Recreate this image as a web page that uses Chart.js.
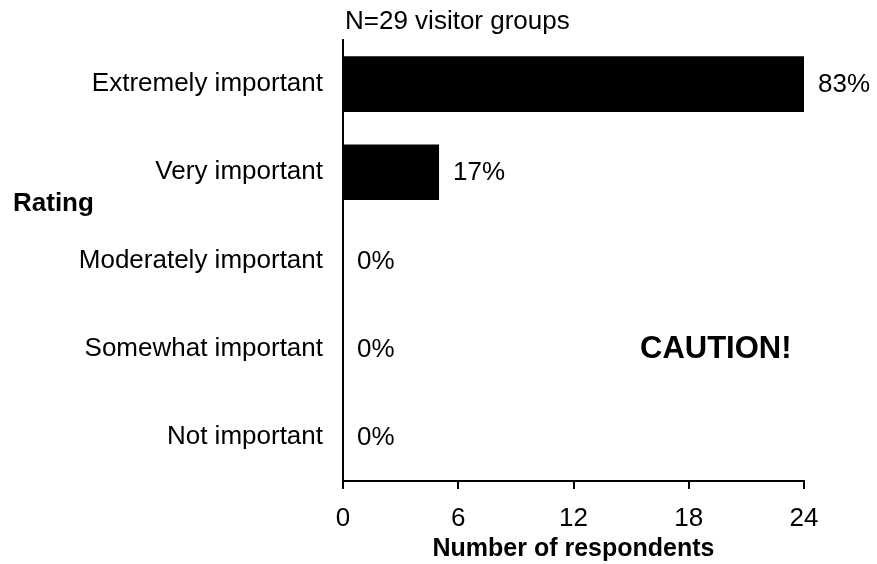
<!DOCTYPE html>
<html>
<head>
<meta charset="utf-8">
<script src="https://cdn.jsdelivr.net/npm/chart.js@4.4.0/dist/chart.umd.min.js"></script>
<style>
  html, body { margin: 0; padding: 0; background: #fff; }
  #wrap { width: 877px; height: 564px; }
</style>
</head>
<body>
<div id="wrap"><canvas id="ratingChart" width="877" height="564"></canvas></div>
<script>
// data
const ratings = ['Extremely important', 'Very important', 'Moderately important', 'Somewhat important', 'Not important'];
const respondents = [24, 5, 0, 0, 0];
const percentLabels = ['83%', '17%', '0%', '0%', '0%'];
const xTicks = [0, 6, 12, 18, 24];
const sampleNote = 'N=29 visitor groups';

const face = '"Liberation Sans", Arial, Helvetica, sans-serif';

// percent labels, header and side texts
const extraText = {
    id: 'extraText',
    afterDatasetsDraw(chart) {
        const ctx = chart.ctx;
        const meta = chart.getDatasetMeta(0);
        ctx.save();
        ctx.fillStyle = '#000';
        ctx.textBaseline = 'middle';
        ctx.textAlign = 'left';
        ctx.font = '26px ' + face;
        meta.data.forEach((bar, i) => {
            ctx.fillText(percentLabels[i], bar.x + 14, bar.y + 1);
        });
        ctx.fillText(sampleNote, chart.chartArea.left + 2, 22);

        ctx.font = 'bold 26px ' + face;
        ctx.fillText('Rating', 13, 204);

        ctx.font = 'bold 31px ' + face;
        ctx.fillText('CAUTION!', 640, 349);
        ctx.restore();
    }
};

Chart.defaults.color = '#000';

new Chart(document.getElementById('ratingChart'), {
    type: 'bar',
    data: {
        labels: ratings,
        datasets: [{
            data: respondents,
            backgroundColor: '#000',
            borderWidth: 0,
            barPercentage: 0.63,
            categoryPercentage: 1
        }]
    },
    options: {
        indexAxis: 'y',
        responsive: false,
        animation: false,
        layout: { padding: { left: 0, top: 40, right: 73, bottom: 0 } },
        plugins: {
            legend: { display: false },
            tooltip: { enabled: false }
        },
        scales: {
            x: {
                min: 0,
                max: 24,
                afterBuildTicks: scale => { scale.ticks = xTicks.map(v => ({ value: v })); },
                afterFit: scale => { scale.height = 83; },
                grid: {
                    drawOnChartArea: false,
                    drawTicks: true,
                    tickLength: 8,
                    color: '#000',
                    lineWidth: 2
                },
                border: { display: true, color: '#000', width: 2 },
                ticks: {
                    font: { family: face, size: 26 },
                    padding: 14,
                    maxRotation: 0
                },
                title: {
                    display: true,
                    text: 'Number of respondents',
                    font: { family: face, size: 25, weight: 'bold' },
                    padding: { top: 0, bottom: 0 }
                }
            },
            y: {
                afterFit: scale => { scale.width = 343; },
                grid: { display: false, drawTicks: false },
                border: { display: true, color: '#000', width: 2 },
                ticks: {
                    font: { family: face, size: 26 },
                    padding: 20
                }
            }
        }
    },
    plugins: [extraText]
});
</script>
</body>
</html>
